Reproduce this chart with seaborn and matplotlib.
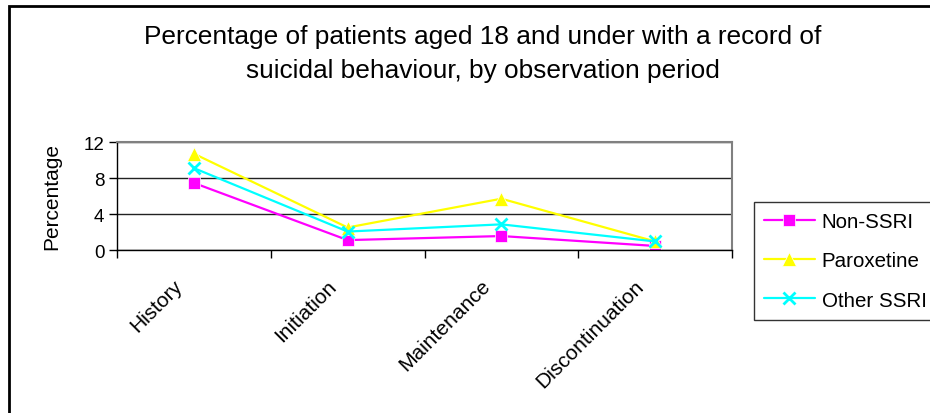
import matplotlib
matplotlib.use("Agg")
import matplotlib.pyplot as plt
import matplotlib.transforms as mtransforms
import seaborn as sns
import pandas as pd
from matplotlib.patches import Rectangle

periods = ["History", "Initiation", "Maintenance", "Discontinuation"]
series_names = ["Non-SSRI", "Paroxetine", "Other SSRI"]
non_ssri = [7.45, 1.1, 1.55, 0.45]
paroxetine = [10.7, 2.5, 5.7, 0.95]
other_ssri = [9.1, 2.05, 2.85, 0.95]
y_ticks = [0, 4, 8, 12]
title = "Percentage of patients aged 18 and under with a record of\nsuicidal behaviour, by observation period"
y_label = "Percentage"

colors = {"Non-SSRI": "#FF00FF", "Paroxetine": "#FFFF00", "Other SSRI": "#00FFFF"}
markers = {"Non-SSRI": "s", "Paroxetine": "^", "Other SSRI": "X"}

rows = []
for name, vals in zip(series_names, [non_ssri, paroxetine, other_ssri]):
    for i, (p, v) in enumerate(zip(periods, vals)):
        rows.append({"pos": i, "period": p, "series": name, "value": v})
df = pd.DataFrame(rows)

sns.set_theme(style="white")
plt.rcParams["font.family"] = ["Liberation Sans", "DejaVu Sans"]
plt.rcParams["text.color"] = "black"
plt.rcParams["axes.labelcolor"] = "black"
plt.rcParams["xtick.color"] = "black"
plt.rcParams["ytick.color"] = "black"

fig = plt.figure(figsize=(9.30, 4.14), dpi=100)
ax = fig.add_axes([117/930, 1-251/414, (732-117)/930, (251-143)/414])

sns.lineplot(data=df, x="pos", y="value", hue="series", style="series",
             hue_order=series_names, style_order=series_names,
             palette=colors, markers=markers, dashes=False,
             markersize=8, linewidth=1.6, markeredgewidth=0.5,
             ax=ax, legend=True)
for line in ax.get_lines():
    m = line.get_marker()
    if m == "X":
        line.set_marker("x")
        line.set_markeredgewidth(2)
        line.set_markeredgecolor("#00FFFF")
        line.set_markersize(9)
    elif m == "^":
        line.set_markersize(9.5)

ax.set_xlim(-0.5, len(periods) - 0.5)
ax.set_ylim(0, 12)
ax.set_yticks(y_ticks)
ax.set_yticklabels([str(t) for t in y_ticks], fontsize=13.5)
ax.set_xticks(range(len(periods)))
ax.set_xticks([i - 0.5 for i in range(len(periods) + 1)], minor=True)
ax.tick_params(axis="x", which="major", length=0, pad=23.5)
ax.tick_params(axis="x", which="minor", length=6, width=1, color="black", direction="out", bottom=True)
ax.tick_params(axis="y", length=6, width=1, color="black", direction="out", left=True, pad=3)
ax.set_xticklabels(periods, rotation=45, ha="right", va="center",
                   rotation_mode="anchor", fontsize=15)
offset = mtransforms.ScaledTranslation(-14/100, 0, fig.dpi_scale_trans)
for tick in ax.xaxis.get_major_ticks():
    tick.label1.set_transform(tick.label1.get_transform() + offset)
ax.set_xlabel("")
ax.set_ylabel(y_label, fontsize=15, labelpad=16)
ax.yaxis.grid(True, color="#222222", linewidth=1)
ax.set_axisbelow(True)
for s in ["left", "bottom"]:
    ax.spines[s].set_color("black")
    ax.spines[s].set_linewidth(1)
for s in ["top", "right"]:
    ax.spines[s].set_color("#808080")
    ax.spines[s].set_linewidth(1.5)

handles, labels = ax.get_legend_handles_labels()
ax.legend_.remove()
for h in handles:
    m = h.get_marker()
    if m in ("X", "x"):
        h.set_marker("x")
        h.set_markeredgewidth(2)
        h.set_markeredgecolor("#00FFFF")
        h.set_markersize(9)
    elif m == "^":
        h.set_markersize(9.5)
leg = fig.legend(handles, labels, loc="upper left",
                 bbox_to_anchor=(754/930, 1-203/414), fontsize=14.8,
                 frameon=True, fancybox=False, handlelength=2.45,
                 borderpad=0.5, labelspacing=0.98, handletextpad=0.35,
                 borderaxespad=0)
leg.get_frame().set_edgecolor("black")
leg.get_frame().set_linewidth(1)
for t in leg.get_texts():
    t.set_color("black")

fig.text(483/930, 1-54/414, title, ha="center", va="center",
         fontsize=18.9, linespacing=1.55, color="black")

border = Rectangle((9/930, -0.1), 1.2, 1 - 7/414 + 0.1, transform=fig.transFigure,
                   fill=False, edgecolor="black", linewidth=2, clip_on=False)
fig.patches.append(border)

fig.savefig("out.png", dpi=100)
